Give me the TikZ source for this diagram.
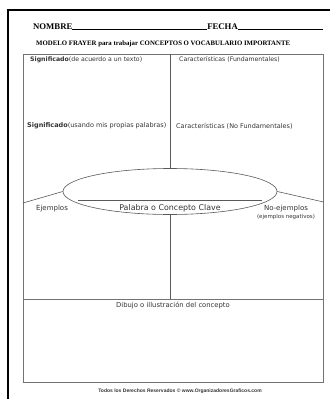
\documentclass[tikz,border=0pt]{standalone}
\usepackage{fontspec}
\setmainfont{Liberation Serif}
\newfontfamily\dejavu{DejaVu Sans}
\newfontfamily\arial{Liberation Sans}
\usetikzlibrary{positioning, shapes.geometric}

\begin{document}
\begin{tikzpicture}[
			x=1pt, y=-1pt,
			% Style for the grid lines of the sheet
			rule/.style={draw=black!65, line width=0.6pt},
			% Style for the field labels
			field/.style={
				anchor=base west,
				inner sep=0pt,
				text=black!80,
				font=\dejavu\fontsize{6.2}{7}\selectfont
			},
			% Style for the header lines
			header/.style={
				anchor=base west,
				inner sep=0pt,
				font=\bfseries
			}
			]
			\useasboundingbox (0,0) rectangle (330,399);
			
			% --- PAGE FRAME ---
			\draw[line width=2pt] (8,399) -- (8,9.5) -- (330,9.5);
			
			% --- HEADER ---
			\node[header, font=\bfseries\fontsize{8.7}{10}\selectfont] (nombre) at (33,29) {NOMBRE\rule[-1pt]{135pt}{0.7pt}FECHA\rule[-1pt]{85pt}{0.7pt}};
			\node[header, font=\bfseries\fontsize{6.8}{7}\selectfont] (modelo) at (36,45) {MODELO FRAYER para trabajar CONCEPTOS O VOCABULARIO IMPORTANTE};
			
			% --- MAIN BOX ---
			\draw[rule, draw=black!55] (23,54) rectangle (323.5,382);
			
			% Key concept (ellipse)
			\node[ellipse, rule, minimum width=214pt, minimum height=46pt, inner sep=0pt] (clave) at (170,191.5) {};
			\draw[rule] (78,200) -- (262,200);
			\node[anchor=base, inner sep=0pt, text=black!80, font=\dejavu\fontsize{7.9}{9}\selectfont] (palabra) at (170,210) {Palabra o Concepto Clave};
			
			% Divider lines
			\coordinate (topmid) at (170,54);
			\coordinate (botmid) at (170,299);
			\coordinate (leftend) at (23,203);
			\coordinate (rightend) at (323.5,202);
			\draw[rule] (topmid) -- (clave.north);
			\draw[rule] (clave.south) -- (botmid);
			\draw[rule] (leftend) -- (clave.west);
			\draw[rule] (clave.east) -- (rightend);
			\draw[rule, draw=black!55] (23,299) -- (323.5,299);
			
			% --- FIELD LABELS ---
			\node[field] (sig1) at (30,61) {\textbf{Significado}(de acuerdo a un texto)};
			\node[field] (car1) at (179,61) {Características (Fundamentales)};
			\node[field, font=\dejavu\fontsize{6.5}{7}\selectfont] (sig2) at (27,127) {\textbf{Significado}(usando mis propias palabras)};
			\node[field, font=\dejavu\fontsize{6.5}{7}\selectfont] (car2) at (176,128) {Características (No Fundamentales)};
			\node[field, anchor=base, font=\dejavu\fontsize{7}{8}\selectfont] (ejemplos) at (52,210) {Ejemplos};
			\node[field, anchor=base, font=\dejavu\fontsize{7}{8}\selectfont] (noejemplos) at (286,210) {No-ejemplos};
			\node[field, anchor=base, font=\dejavu\fontsize{5.5}{6}\selectfont] (negativos) at (286,218) {(ejemplos negativos)};
			\node[field, anchor=base, font=\dejavu\fontsize{6.8}{7}\selectfont] (dibujo) at (173,307) {Dibujo o illustración del concepto};
			
			% --- FOOTER ---
			\node[anchor=base, inner sep=0pt, text=black!80, font=\arial\bfseries\fontsize{5}{6}\selectfont] (footer) at (180,392) {Todos los Derechos Reservados © www.OrganizadoresGraficos.com};
			
		\end{tikzpicture}
\end{document}
